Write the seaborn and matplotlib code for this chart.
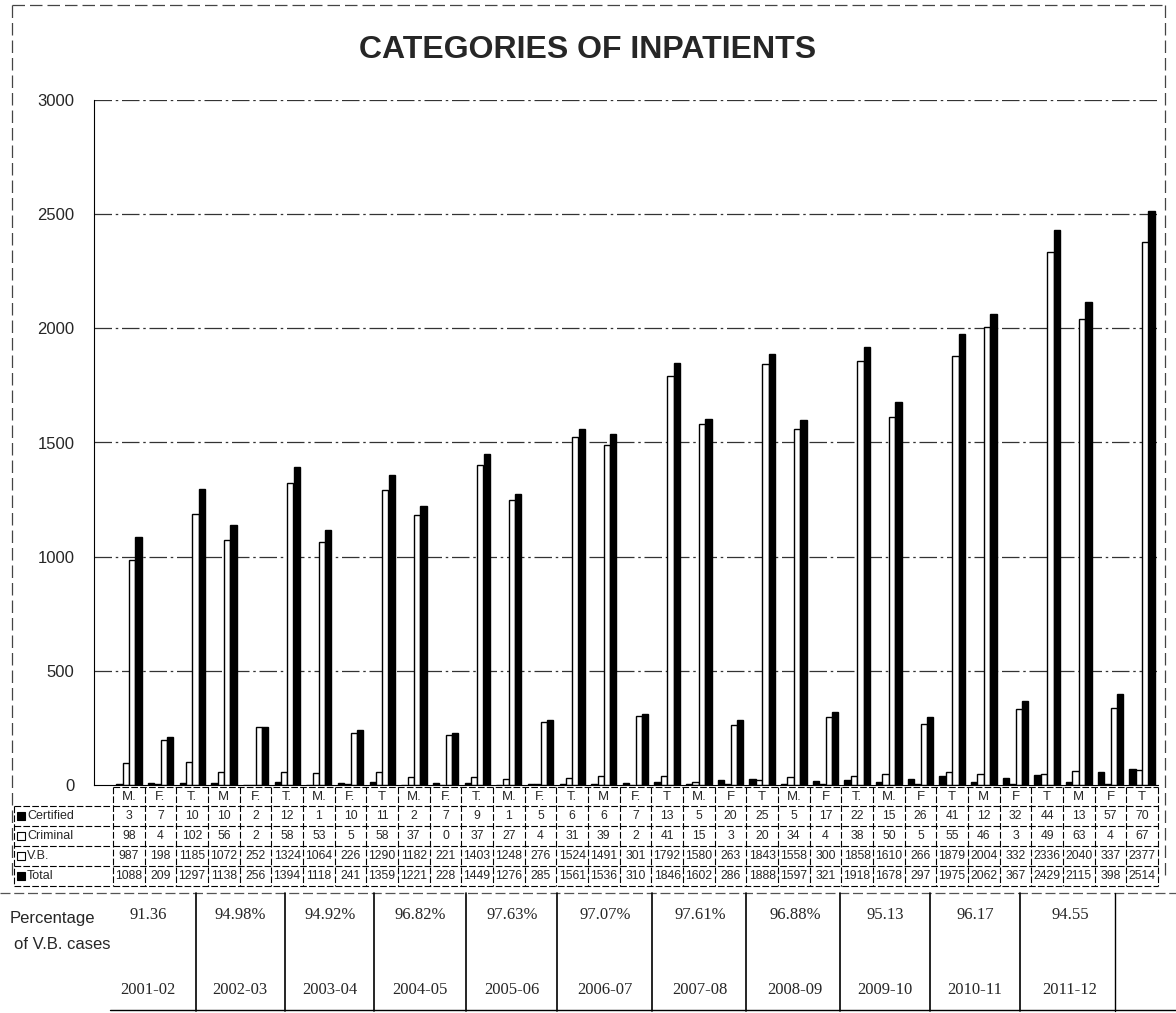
import numpy as np
import pandas as pd
import matplotlib
matplotlib.use("Agg")
import matplotlib.pyplot as plt
import seaborn as sns
from matplotlib.transforms import blended_transform_factory
from matplotlib.patches import Rectangle
from matplotlib.lines import Line2D

sex_labels = ["M.", "F.", "T.", "M", "F.", "T.", "M.", "F.", "T", "M.", "F.", "T.",
              "M.", "F.", "T.", "M", "F.", "T", "M.", "F", "T", "M.", "F", "T.",
              "M.", "F", "T", "M", "F", "T", "M", "F", "T"]
certified = [3, 7, 10, 10, 2, 12, 1, 10, 11, 2, 7, 9, 1, 5, 6, 6, 7, 13, 5, 20, 25,
             5, 17, 22, 15, 26, 41, 12, 32, 44, 13, 57, 70]
criminal = [98, 4, 102, 56, 2, 58, 53, 5, 58, 37, 0, 37, 27, 4, 31, 39, 2, 41, 15, 3, 20,
            34, 4, 38, 50, 5, 55, 46, 3, 49, 63, 4, 67]
vb = [987, 198, 1185, 1072, 252, 1324, 1064, 226, 1290, 1182, 221, 1403, 1248, 276, 1524,
      1491, 301, 1792, 1580, 263, 1843, 1558, 300, 1858, 1610, 266, 1879, 2004, 332, 2336,
      2040, 337, 2377]
total = [1088, 209, 1297, 1138, 256, 1394, 1118, 241, 1359, 1221, 228, 1449, 1276, 285, 1561,
         1536, 310, 1846, 1602, 286, 1888, 1597, 321, 1918, 1678, 297, 1975, 2062, 367, 2429,
         2115, 398, 2514]
years = ["2001-02", "2002-03", "2003-04", "2004-05", "2005-06", "2006-07", "2007-08",
         "2008-09", "2009-10", "2010-11", "2011-12"]
percent_labels = ["91.36", "94.98%", "94.92%", "96.82%", "97.63%", "97.07%", "97.61%",
                  "96.88%", "95.13", "96.17", "94.55"]
series_names = ["Certified", "Criminal", "V.B.", "Total"]

W, H = 1176, 1013
fig = plt.figure(figsize=(W / 100, H / 100), dpi=100)
sns.set_style("white")
plt.rcParams['font.family'] = ['Liberation Sans', 'DejaVu Sans']

def fx(px):
    return px / W

def fy(py):
    return 1 - py / H

ax = fig.add_axes([fx(94), fy(785), fx(1158) - fx(94), fy(100) - fy(785)])

n = len(sex_labels)
rows = []
for name, vals in zip(series_names, [certified, criminal, vb, total]):
    for i, v in enumerate(vals):
        rows.append({"col": i, "series": name, "value": v})
df = pd.DataFrame(rows)

palette = {"Certified": "black", "Criminal": "white", "V.B.": "white", "Total": "black"}
sns.barplot(data=df, x="col", y="value", hue="series", hue_order=series_names,
            order=list(range(n)), palette=palette, edgecolor="black", linewidth=1.0,
            width=0.8, ax=ax, legend=False, saturation=1)

ax.set_xlim(-1.1, n - 0.5)
ax.set_ylim(0, 3000)
ax.set_yticks(range(0, 3001, 500))
ax.set_yticklabels([str(v) for v in range(0, 3001, 500)], fontsize=12)
ax.set_xticks([])
ax.set_xlabel("")
ax.set_ylabel("")
for v in range(500, 3001, 500):
    ax.axhline(v, color="#333333", lw=0.9, ls=(0, (14, 3, 2, 3)), zorder=0)
for s in ["top", "right"]:
    ax.spines[s].set_visible(False)
ax.spines["left"].set_color("black")
ax.spines["bottom"].set_color("black")
ax.tick_params(axis="y", length=4, color="black", pad=10)

fig.text(0.5, fy(50), "CATEGORIES OF INPATIENTS", ha="center", va="center",
         fontsize=23, fontweight="bold")

# ---- data table under axis ----
tr = blended_transform_factory(ax.transData, fig.transFigure)
row_edges = [787, 806, 826, 846, 866, 886]
table_rows = [sex_labels, certified, criminal, vb, total]
for r, vals in enumerate(table_rows):
    yc = fy((row_edges[r] + row_edges[r + 1]) / 2)
    for i, v in enumerate(vals):
        ax.text(i, yc, str(v), transform=tr, ha="center", va="center",
                fontsize=8.8 if r > 0 else 9.5, clip_on=False)
for yy in row_edges:
    ax.add_line(Line2D([-0.5, n - 0.5], [fy(yy), fy(yy)], transform=tr, color="black",
                       lw=0.8, clip_on=False, ls=(0, (6, 2))))
for i in range(n + 1):
    ax.add_line(Line2D([i - 0.5, i - 0.5], [fy(row_edges[0]), fy(row_edges[-1])],
                       transform=tr, color="black", lw=0.8, clip_on=False, ls=(0, (6, 2))))
for yy in row_edges[1:]:
    fig.add_artist(Line2D([fx(14), fx(110)], [fy(yy), fy(yy)], color="black", lw=0.8,
                          ls=(0, (6, 2))))
fig.add_artist(Line2D([fx(14), fx(14)], [fy(row_edges[1]), fy(row_edges[-1])], color="black",
                      lw=0.8, ls=(0, (6, 2))))
key_colors = ["black", "white", "white", "black"]
for r, name in enumerate(series_names):
    y0 = row_edges[r + 1]
    yc = (y0 + row_edges[r + 2]) / 2
    fig.add_artist(Rectangle((fx(17), fy(yc + 4)), fx(8), fy(yc - 4) - fy(yc + 4),
                             facecolor=key_colors[r], edgecolor="black", lw=0.8))
    fig.text(fx(27), fy(yc), name, ha="left", va="center", fontsize=9)

# ---- percentage table ----
year_centers = [148, 240, 330, 420, 512, 605, 700, 795, 885, 975, 1070]
bounds = [196, 285, 374, 466, 557, 652, 746, 840, 930, 1020]
fig.add_artist(Line2D([fx(0), fx(1176)], [fy(893), fy(893)], color="#555555", lw=0.9,
                      ls=(0, (8, 3))))
fig.add_artist(Line2D([fx(110), fx(1176)], [fy(1010), fy(1010)], color="black", lw=1.0))
for b in bounds:
    fig.add_artist(Line2D([fx(b), fx(b)], [fy(893), fy(1011)], color="black", lw=1.2))
fig.add_artist(Line2D([fx(1115), fx(1115)], [fy(893), fy(1011)], color="black", lw=1.0))
for xc, p, yname in zip(year_centers, percent_labels, years):
    fig.text(fx(xc), fy(915), p, ha="center", va="center", fontsize=12,
             family=["Liberation Serif", "DejaVu Serif"])
    fig.text(fx(xc), fy(990), yname, ha="center", va="center", fontsize=12,
             family=["Liberation Serif", "DejaVu Serif"])
fig.text(fx(10), fy(918), "Percentage", ha="left", va="center", fontsize=12)
fig.text(fx(14), fy(944), "of V.B. cases", ha="left", va="center", fontsize=12)

fig.add_artist(Line2D([fx(12), fx(1165)], [fy(5), fy(5)], color="#444444", lw=0.9,
                      ls=(0, (10, 4))))
fig.add_artist(Line2D([fx(12), fx(12)], [fy(5), fy(880)], color="#444444", lw=0.9,
                      ls=(0, (10, 4))))
fig.add_artist(Line2D([fx(1165), fx(1165)], [fy(5), fy(880)], color="#444444", lw=0.9,
                      ls=(0, (10, 4))))

fig.savefig("out.png", dpi=100)
